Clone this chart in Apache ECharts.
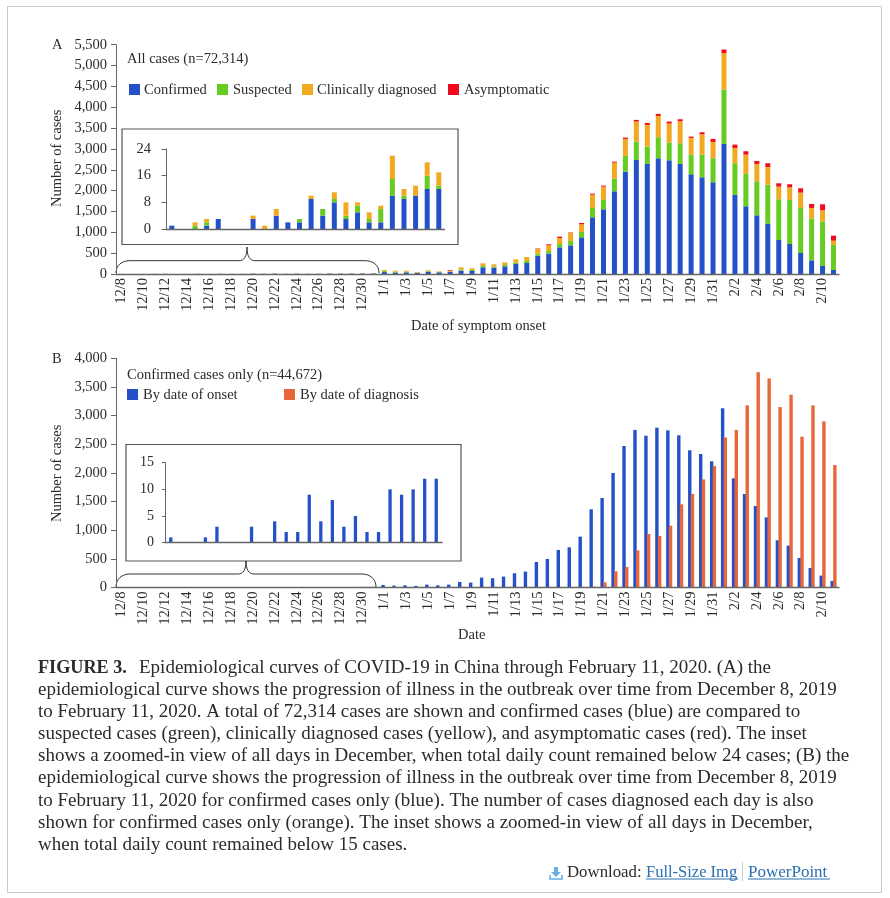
<!DOCTYPE html>
<html><head><meta charset="utf-8">
<style>html,body{margin:0;padding:0;background:#fff}#c{width:890px;height:898px}</style>
<script src="https://cdn.jsdelivr.net/npm/echarts@6/dist/echarts.min.js"></script>
</head><body><div id="c"></div>
<script>
// ---------- data ----------
const decDays=['12/8','12/9','12/10','12/11','12/12','12/13','12/14','12/15','12/16','12/17','12/18','12/19','12/20','12/21','12/22','12/23','12/24','12/25','12/26','12/27','12/28','12/29','12/30','12/31'];
const janDays=['1/1','1/2','1/3','1/4','1/5','1/6','1/7','1/8','1/9','1/10','1/11','1/12','1/13','1/14','1/15','1/16','1/17','1/18','1/19','1/20','1/21','1/22','1/23','1/24','1/25','1/26','1/27','1/28','1/29','1/30','1/31'];
const febDays=['2/1','2/2','2/3','2/4','2/5','2/6','2/7','2/8','2/9','2/10','2/11'];
const days=decDays.concat(janDays,febDays);

const decConfirmed=[1,0,0,1,3,0,0,3,0,4,2,2,9,4,8,3,5,2,2,10,9,10,12,12];
const decSuspected=[0,0,1,1,0,0,0,0,0,0,0,1,0,2,1,1,2,1,4,5,1,0,4,1];
const decClinical=[0,0,1,1,0,0,0,1,1,2,0,0,1,0,2,4,1,2,1,7,2,3,4,4];
const decAsymptomatic=[0,0,0,0,0,0,0,0,0,0,0,0,0,0,0,0,0,0,0,0,0,0,0,0];

const confirmedA=[46,35,40,29,52,40,52,80,72,160,152,184,240,264,440,488,640,688,880,1360,1552,1984,2456,2736,2640,2776,2728,2640,2392,2320,2200,3120,1896,1624,1408,1208,816,720,504,328,192,96];
const suspectedA=[24,20,16,6,14,12,8,30,24,32,24,32,32,48,48,64,80,104,128,224,224,304,376,440,416,504,424,496,472,544,576,1304,760,776,816,936,976,1056,1080,1000,1064,600];
const clinicalA=[26,25,24,13,22,12,20,50,40,64,56,64,80,96,120,136,144,200,184,320,320,384,408,480,520,512,456,528,400,488,392,872,368,464,416,424,304,304,368,256,272,104];
const asymptomaticA=[0,0,0,0,0,0,16,0,0,0,0,0,0,0,8,24,32,8,32,24,24,24,32,40,48,48,48,48,32,48,72,88,80,80,72,88,80,72,104,96,144,120];

const onsetB=[46,35,40,29,52,40,52,99,87,174,163,192,250,279,447,500,657,703,889,1365,1563,2000,2470,2750,2650,2790,2743,2657,2395,2330,2203,3127,1906,1633,1424,1226,825,732,517,343,209,116];
const diagnosisB=[0,0,0,0,0,0,0,0,0,0,0,0,0,0,0,0,0,0,6,17,93,285,360,650,935,900,1080,1452,1633,1888,2120,2620,2750,3178,3758,3648,3149,3364,2632,3178,2900,2138];
const decOnset=[1,0,0,1,3,0,0,3,0,4,2,2,9,4,8,3,5,2,2,10,9,10,12,12];

const captionLines=[
'Epidemiological curves of COVID-19 in China through February 11, 2020. (A) the',
'epidemiological curve shows the progression of illness in the outbreak over time from December 8, 2019',
'to February 11, 2020. A total of 72,314 cases are shown and confirmed cases (blue) are compared to',
'suspected cases (green), clinically diagnosed cases (yellow), and asymptomatic cases (red). The inset',
'shows a zoomed-in view of all days in December, when total daily count remained below 24 cases; (B) the',
'epidemiological curve shows the progression of illness in the outbreak over time from December 8, 2019',
'to February 11, 2020 for confirmed cases only (blue). The number of cases diagnosed each day is also',
'shown for confirmed cases only (orange). The inset shows a zoomed-in view of all days in December,',
'when total daily count remained below 15 cases.'];

// ---------- style ----------
const F='"Liberation Serif"';
const BLUE='#2450c8',GREEN='#66cc22',ORANGE='#f2a922',RED='#f00a1e',ORB='#e8673a';
const INK='#2b2b2b',AX='#666';

const grids=[
 {left:116,right:51,top:44.7,height:229.3},
 {left:116,right:51,top:358.3,height:229.3},
 {left:166,top:149,width:278.6,height:80},
 {left:165,top:462.7,width:277,height:80}
];
function xAxis(i,cat,show){return {gridIndex:i,type:'category',data:cat,boundaryGap:true,z:10,
 axisLine:{lineStyle:{color:AX,width:1.3}},axisTick:{show:false},
 axisLabel:show?{show:true,interval:1,rotate:90,color:INK,fontFamily:F,fontSize:14.5,margin:4,align:'right',verticalAlign:'middle'}:{show:false}};}
function yAxis(i,max,interval,fs,tick,margin){return {gridIndex:i,type:'value',min:0,max,interval,z:10,
 splitLine:{show:false},axisLine:{show:true,lineStyle:{color:AX,width:1}},
 axisTick:{show:true,length:tick,inside:false,lineStyle:{color:AX}},
 axisLabel:{color:INK,fontFamily:F,fontSize:fs,margin,formatter:v=>v.toLocaleString('en-US')}};}
function stack(name,data,color,xi,width){return {name,type:'bar',stack:'s'+xi,xAxisIndex:xi,yAxisIndex:xi,data,barWidth:width,itemStyle:{color},z:2};}

const series=[
 stack('Confirmed',decConfirmed.concat(confirmedA),BLUE,0,5),
 stack('Suspected',decSuspected.concat(suspectedA),GREEN,0,5),
 stack('Clinically diagnosed',decClinical.concat(clinicalA),ORANGE,0,5),
 stack('Asymptomatic',decAsymptomatic.concat(asymptomaticA),RED,0,5),
 {name:'By date of onset',type:'bar',xAxisIndex:1,yAxisIndex:1,data:decOnset.concat(onsetB),barWidth:3.4,barGap:'-20%',itemStyle:{color:BLUE},z:2},
 {name:'By date of diagnosis',type:'bar',xAxisIndex:1,yAxisIndex:1,data:decDays.map(()=>0).concat(diagnosisB),barWidth:3.4,itemStyle:{color:ORB},z:2},
 stack('Confirmed',decConfirmed,BLUE,2,5),
 stack('Suspected',decSuspected,GREEN,2,5),
 stack('Clinically diagnosed',decClinical,ORANGE,2,5),
 {name:'By date of onset',type:'bar',xAxisIndex:3,yAxisIndex:3,data:decOnset,barWidth:3.3,itemStyle:{color:BLUE},z:2}
];

const txt=(x,y,text,o={})=>({type:'text',x,y,silent:true,z:20,style:Object.assign({text,fill:INK,font:(o.w||'')+' '+(o.fs||14.5)+'px '+F},o.style||{})});
const box=(x,y,w,h,c)=>({type:'rect',silent:true,z:1,shape:{x,y,width:w,height:h},style:{fill:c}});
const BR={fill:'none',stroke:'#333',lineWidth:1};
const curve=(x1,y1,cx1,cy1,cx2,cy2,x2,y2)=>({type:'bezierCurve',silent:true,z:1,shape:{x1,y1,cpx1:cx1,cpy1:cy1,cpx2:cx2,cpy2:cy2,x2,y2},style:BR});
const seg=(x1,y1,x2,y2,c,w)=>({type:'line',silent:true,z:1,shape:{x1,y1,x2,y2},style:{stroke:c||'#333',lineWidth:w||1}});
const brace=(x0,x1,mid,y0,y1,tip)=>[
 curve(x0,y0,x0,y0-8,x0+6,y1,x0+14,y1),
 seg(x0+14,y1,mid-8,y1),
 curve(mid-8,y1,mid-3,y1,mid,y1-4,mid,tip),
 curve(mid,tip,mid,y1-4,mid+3,y1,mid+8,y1),
 seg(mid+8,y1,x1-14,y1),
 curve(x1-14,y1,x1-6,y1,x1,y0-8,x1,y0)];

const graphic=[
 {type:'rect',silent:true,z:0,shape:{x:7.5,y:6.5,width:874,height:886},style:{fill:'none',stroke:'#c8c8c8',lineWidth:1}},
 {type:'rect',silent:true,z:0,shape:{x:122,y:129,width:336,height:115.5},style:{fill:'#fff',stroke:'#555',lineWidth:1.2}},
 {type:'rect',silent:true,z:0,shape:{x:126,y:444.5,width:335,height:116.5},style:{fill:'#fff',stroke:'#555',lineWidth:1.2}},
 ...brace(116,379,247,273,260.7,247),
 ...brace(116,376,246,587,574,561),
 txt(52,38,'A'),txt(52,352,'B'),
 txt(127,52,'All cases (n=72,314)'),
 txt(127,368,'Confirmed cases only (n=44,672)'),
 box(129,84,11,11,BLUE),txt(144,83,'Confirmed'),
 box(217,84,11,11,GREEN),txt(233,83,'Suspected'),
 box(302,84,11,11,ORANGE),txt(317,83,'Clinically diagnosed'),
 box(448,84,11,11,RED),txt(464,83,'Asymptomatic'),
 box(127,389,11,11,BLUE),txt(143,388,'By date of onset'),
 box(284,389,11,11,ORB),txt(300,388,'By date of diagnosis'),
 txt(411,319,'Date of symptom onset'),
 txt(458,628,'Date'),
 {type:'text',silent:true,rotation:Math.PI/2,x:50,y:207,z:20,style:{text:'Number of cases',fill:INK,font:'14.5px '+F}},
 {type:'text',silent:true,rotation:Math.PI/2,x:50,y:522,z:20,style:{text:'Number of cases',fill:INK,font:'14.5px '+F}},
 txt(38,659,'FIGURE 3.',{fs:18.2,w:'bold'}),
 ...captionLines.map((t,i)=>txt(i===0?139:38,658.5+i*22.1,t,{fs:19})),
 txt(567,864,'Download:',{fs:16.8}),
 txt(646,864,'Full-Size Img',{fs:16.5,style:{fill:'#2a6fb0'}}),
 txt(748,864,'PowerPoint',{fs:17,style:{fill:'#2a6fb0'}}),
 seg(646,879,738,879,'#2a6fb0'),
 seg(748,879,830,879,'#2a6fb0'),
 seg(742.5,862,742.5,881,'#ccc'),
 {type:'polygon',silent:true,shape:{points:[[554,867],[558,867],[558,872],[561,872],[556,877],[551,872],[554,872]]},style:{fill:'#6aaee6'}},
 {type:'polyline',silent:true,shape:{points:[[550,875],[550,879],[562,879],[562,875]]},style:{fill:'none',stroke:'#6aaee6',lineWidth:1.6}}
];

const chart=echarts.init(document.getElementById('c'),null,{renderer:'canvas'});
chart.setOption({animation:false,backgroundColor:'#fff',tooltip:{show:false},legend:{show:false},
 grid:grids,
 xAxis:[xAxis(0,days,true),xAxis(1,days,true),xAxis(2,decDays,false),xAxis(3,decDays,false)],
 yAxis:[yAxis(0,5500,500,14.5,5,9),yAxis(1,4000,500,14.5,5,9),yAxis(2,24,8,14.5,4.5,15),yAxis(3,15,5,14,3,11)],
 series,graphic});
</script></body></html>
